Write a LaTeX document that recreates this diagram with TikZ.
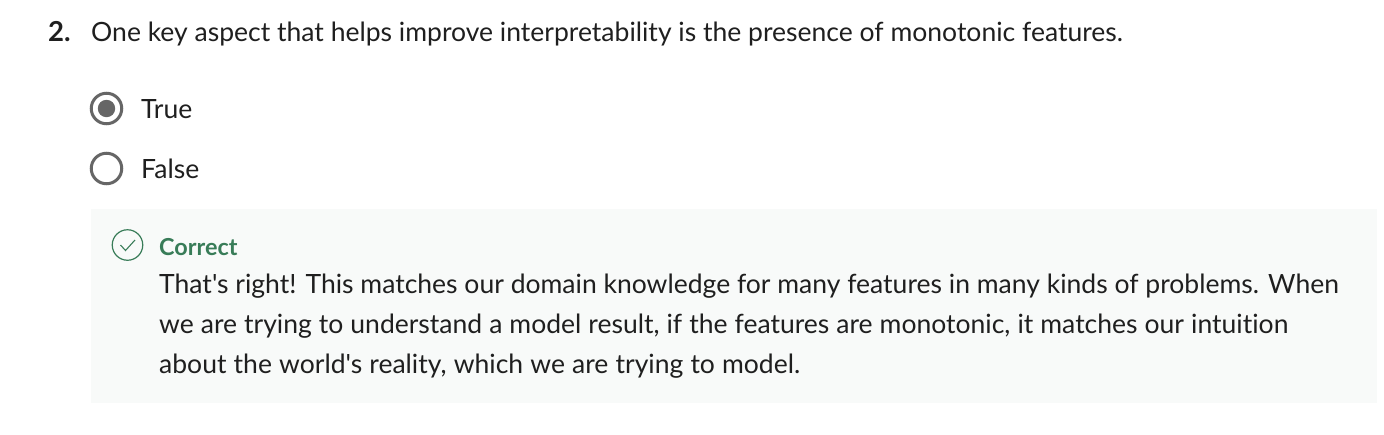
\documentclass[tikz,border=0pt]{standalone}
\usepackage{fontspec}
\setmainfont{Lato}[Ligatures={TeXOff,NoCommon}]
\newfontface\heavyface{Lato}[UprightFeatures={FakeBold=0.35},BoldFeatures={FakeBold=0.35},Ligatures={TeXOff,NoCommon}]
\definecolor{ink}{HTML}{1F1F1F}
\definecolor{radio}{HTML}{666666}
\definecolor{okgreen}{HTML}{387C58}
\definecolor{panel}{HTML}{F8FAF9}
\tikzset{
  txt/.style={anchor=base west,inner sep=0pt,text=ink,font=\fontsize{26.52}{26.52}\selectfont},
  radiobtn/.style={circle,draw=radio,line width=3pt,minimum size=30.5pt,inner sep=0pt}
}
\begin{document}
\begin{tikzpicture}[x=1pt,y=-1pt]
\useasboundingbox (0,0) rectangle (1384,434);
\fill[white] (0,0) rectangle (1384,434);
\node[txt,font=\fontsize{27.5}{27.5}\selectfont\bfseries] (num) at (48,41) {2.};
\node[txt] (q) at (91,41) {One key aspect that helps improve interpretability is the presence of monotonic features.};
\node[radiobtn] (r1) at (106.5,108.5) {};
\fill[radio] (r1.center) circle (8.7pt);
\node[txt] (t1) at (141,118) {True};
\node[radiobtn] (r2) at (106.5,168.5) {};
\node[txt] (t2) at (141,178) {False};
\fill[panel] (91,209) rectangle (1377,403);
\node[circle,draw=okgreen,line width=1.2pt,minimum size=30.5pt,inner sep=0pt] (ok) at (127.5,245) {};
\draw[okgreen,line width=1.1pt] (120.5,245) -- (125.5,250.5) -- (135,240);
\node[txt,text=okgreen,font=\fontsize{23.4}{23.4}\selectfont\bfseries] (c) at (159,255) {Correct};
\node[txt] (l1) at (159,293) {That's right! This matches our domain knowledge for many features in many kinds of problems. When};
\node[txt] (l2) at (159,333) {\makebox[1129pt][s]{we are trying to understand a model result, if the features are monotonic, it matches our intuition}};
\node[txt] (l3) at (159,373) {\makebox[641pt][s]{about the world's reality, which we are trying to model.}};
\end{tikzpicture}
\end{document}
